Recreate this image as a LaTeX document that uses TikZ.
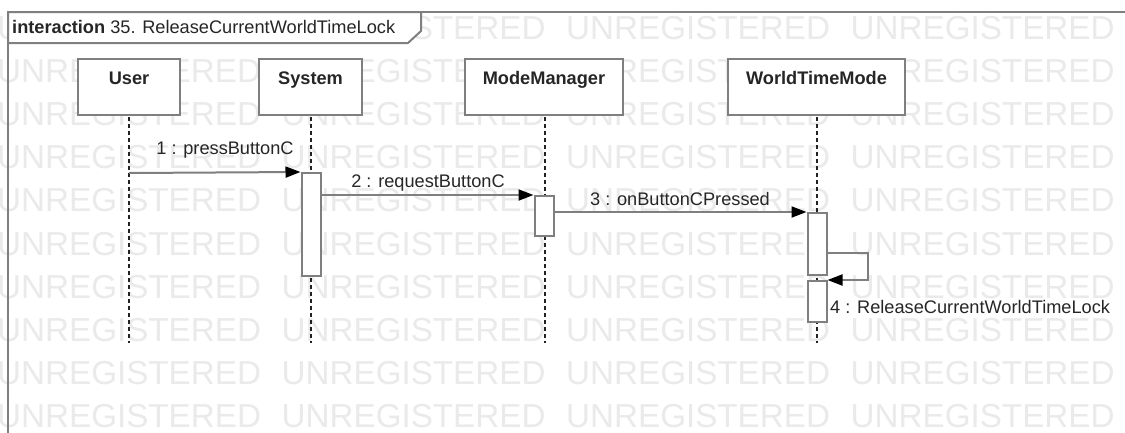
\documentclass[tikz,border=0pt]{standalone}
\usepackage{fontspec}
\setmainfont{Liberation Sans}
\usetikzlibrary{arrows.meta,calc}
\definecolor{linegray}{HTML}{7F7F7F}
\definecolor{wmgray}{HTML}{EAEAEA}
\definecolor{lifeblack}{HTML}{222222}
\definecolor{txt}{HTML}{262626}
\begin{document}
\begin{tikzpicture}[x=1pt,y=-1pt,
  wmtext/.style={text=wmgray, inner sep=0pt, anchor=base west, font=\fontsize{33.2}{36}\selectfont},
  frameline/.style={draw=linegray, line width=2pt},
  headbox/.style={draw=linegray, line width=2pt, fill=white, anchor=north, inner xsep=0pt,
    inner ysep=12pt, text height=13pt, text depth=19pt, text=txt,
    font=\bfseries\fontsize{18.2}{20}\selectfont},
  lifeline/.style={draw=lifeblack, line width=1.2pt, dash pattern=on 4pt off 3pt},
  actbar/.style={draw=linegray, line width=2pt, fill=white, minimum width=19pt, inner sep=0pt},
  msg/.style={draw=linegray, line width=2pt, -{Triangle[length=15pt,width=11pt,color=black]}},
  msgline/.style={draw=linegray, line width=2pt},
  msglabel/.style={inner sep=0pt, text=txt, font=\fontsize{18.2}{20}\selectfont},
]
\useasboundingbox (0,0) rectangle (1125,432);
\fill[white] (0,0) rectangle (1125,432);

% watermark
\foreach \r in {0,...,9}{
  \foreach \c in {0,...,3}{
    \node[wmtext] (wm-\r-\c) at ({-3+284.5*\c},{39+43.2*\r}) {UNREGISTERED};
  }
}

% frame
\coordinate (fr-bl) at (8,440);
\coordinate (fr-tl) at (8,12);
\coordinate (fr-tr) at (1135,12);
\draw[frameline] (fr-bl) -- (fr-tl) -- (fr-tr);
\draw[frameline, fill=white] (8,12) -- (421,12) -- (421,31) -- (408,43) -- (8,43) -- cycle;
\node[inner sep=0pt, anchor=base west, text=txt, font=\fontsize{18.2}{20}\selectfont] (title) at (12,33)
  {\textbf{interaction} 35. ReleaseCurrentWorldTimeLock};

% lifeline heads
\node[headbox, minimum width=102pt] (user) at (129,58) {User};
\node[headbox, minimum width=103pt] (system) at (310.5,58) {System};
\node[headbox, minimum width=158pt] (mm) at (544,58) {ModeManager};
\node[headbox, minimum width=177pt] (wtm) at (816.5,58) {WorldTimeMode};

% lifeline ends
\coordinate (user-end) at (129,343);
\coordinate (system-end) at (311,343);
\coordinate (mm-end) at (545,343);
\coordinate (wtm-end) at (817,343);
\draw[lifeline] (user.south) ++(0,1) -- (user-end);
\draw[lifeline] (user.south -| system-end) ++(0,1) -- (system-end);
\draw[lifeline] (user.south -| mm-end) ++(0,1) -- (mm-end);
\draw[lifeline] (user.south -| wtm-end) ++(0,1) -- (wtm-end);

% activation bars
\node[actbar, minimum height=103pt] (act1) at (311,224.5) {};
\node[actbar, minimum height=40pt] (act2) at (544,216) {};
\node[actbar, minimum height=62pt] (act3) at (817,244) {};
\node[actbar, minimum height=41pt] (act4) at (817,301.5) {};

% messages
\coordinate (m1s) at (129,173);
\draw[msg] (m1s) -- (act1.north west);
\draw[msg] (act1.east |- act2.north) -- (act2.north west);
\draw[msg] (act2.east |- act3.north) -- (act3.north west);
\coordinate (selfR) at (868,253);
\draw[msgline] (act3.east |- selfR) -- (selfR) -- (selfR |- act4.north);
\draw[msg] ($(selfR |- act4.north)+(1,0)$) -- (act4.north east);

% labels
\node[msglabel, anchor=base] (l1) at (225,154) {1 : pressButtonC};
\node[msglabel, anchor=base] (l2) at (428,187) {2 : requestButtonC};
\node[msglabel, anchor=base] (l3) at (680,205) {3 : onButtonCPressed};
\node[msglabel, anchor=base west] (l4) at (830,313) {4 : ReleaseCurrentWorldTimeLock};
\end{tikzpicture}
\end{document}
